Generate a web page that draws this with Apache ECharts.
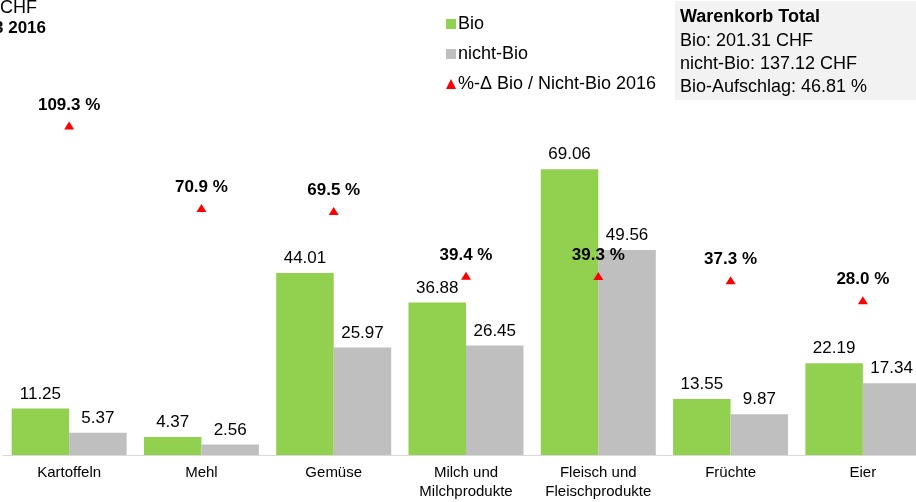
<!DOCTYPE html>
<html>
<head>
<meta charset="utf-8">
<script src="https://cdn.jsdelivr.net/npm/echarts@6/dist/echarts.min.js"></script>
<style>
  html, body { margin: 0; padding: 0; background: #fff; }
  #main { width: 916px; height: 502px; }
</style>
</head>
<body>
<div id="main"></div>
<script>
// Warenkorb Bio vs. nicht-Bio (CHF) und Aufschlag in %
var categories = ['Kartoffeln', 'Mehl', 'Gemüse', 'Milch und\nMilchprodukte', 'Fleisch und\nFleischprodukte', 'Früchte', 'Eier'];
var bioValues = [11.25, 4.37, 44.01, 36.88, 69.06, 13.55, 22.19];
var nichtBioValues = [5.37, 2.56, 25.97, 26.45, 49.56, 9.87, 17.34];
var aufschlagValues = [109.3, 70.9, 69.5, 39.4, 39.3, 37.3, 28.0];

var fontFam = '"Liberation Sans", Arial, sans-serif';
var myChart = echarts.init(document.getElementById('main'));

var option = {
  backgroundColor: '#fff',
  textStyle: { fontFamily: fontFam },
  animation: false,
  grid: { left: 3, top: 124, width: 926, height: 331, outerBoundsMode: 'none' },
  legend: {
    orient: 'vertical',
    left: 441,
    top: 9,
    itemWidth: 10,
    itemHeight: 10,
    itemGap: 10,
    textStyle: { fontSize: 18, color: '#000', lineHeight: 20, padding: [0, 0, 0, -3] },
    data: [
      { name: 'Bio', icon: 'rect' },
      { name: 'nicht-Bio', icon: 'rect' },
      { name: '%-Δ Bio / Nicht-Bio 2016', icon: 'triangle' }
    ]
  },
  xAxis: {
    type: 'category',
    data: categories,
    axisLine: { lineStyle: { color: '#d9d9d9', width: 1 } },
    axisTick: { show: false },
    axisLabel: { fontSize: 15, color: '#000', lineHeight: 19, margin: 8, interval: 0 }
  },
  yAxis: [
    { type: 'value', min: 0, max: 80, show: false, splitLine: { show: false } },
    { type: 'value', min: -44, max: 110, show: false, splitLine: { show: false } }
  ],
  graphic: [
    { type: 'text', right: 879, top: -1, style: { text: 'Preise in CHF', fontSize: 18, fill: '#000', fontFamily: fontFam } },
    { type: 'text', right: 870, top: 20, style: { text: 'Q3 2016', fontSize: 17, fontWeight: 'bold', fill: '#000', fontFamily: fontFam } },
    { type: 'rect', left: 675, top: 1, shape: { width: 250, height: 99 }, style: { fill: '#f2f2f2' } },
    { type: 'text', left: 680, top: 8, style: { text: 'Warenkorb Total', fontSize: 18, fontWeight: 'bold', fill: '#000', fontFamily: fontFam } },
    { type: 'text', left: 680, top: 30, style: { text: 'Bio: 201.31 CHF\nnicht-Bio: 137.12 CHF\nBio-Aufschlag: 46.81 %', fontSize: 18, lineHeight: 23, fill: '#000', fontFamily: fontFam } }
  ],
  series: [
    {
      name: 'Bio',
      type: 'bar',
      data: bioValues,
      barWidth: 57.5,
      barGap: '0%',
      itemStyle: { color: '#92d050' },
      label: { show: true, position: 'top', distance: 6, fontSize: 17, color: '#000', formatter: function (p) { return p.value.toFixed(2); } }
    },
    {
      name: 'nicht-Bio',
      type: 'bar',
      data: nichtBioValues,
      barWidth: 57.5,
      barGap: '0%',
      itemStyle: { color: '#bfbfbf' },
      label: { show: true, position: 'top', distance: 6, fontSize: 17, color: '#000', formatter: function (p) { return p.value.toFixed(2); } }
    },
    {
      name: '%-Δ Bio / Nicht-Bio 2016',
      type: 'scatter',
      yAxisIndex: 1,
      data: aufschlagValues,
      symbol: 'triangle',
      symbolSize: [10, 8],
      itemStyle: { color: '#ff0000', opacity: 1 },
      z: 5,
      label: { show: true, position: 'top', distance: 8, fontSize: 17, fontWeight: 'bold', color: '#000', opacity: 1, formatter: function (p) { return p.value.toFixed(1) + ' %'; } }
    }
  ]
};

myChart.setOption(option);
window.addEventListener('resize', function () { myChart.resize(); });
</script>
</body>
</html>
